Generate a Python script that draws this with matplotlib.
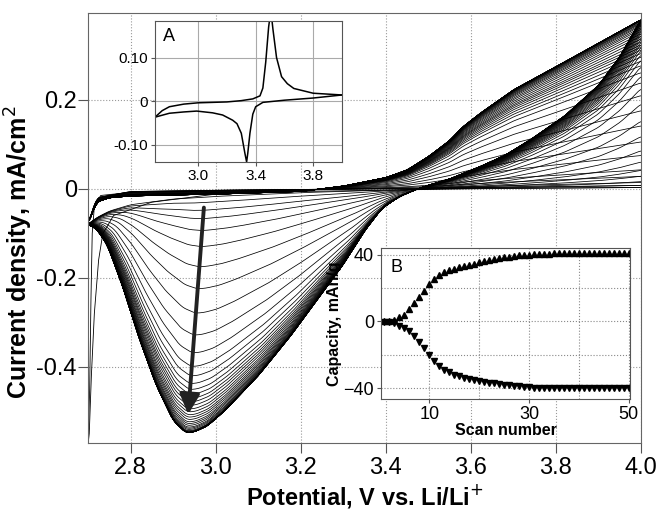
import matplotlib
matplotlib.use("Agg")
import matplotlib.pyplot as plt
import numpy as np

plt.rcParams['font.family'] = ['Liberation Sans', 'DejaVu Sans']

# ---- main panel: control points (V, mA/cm2) ----
# last-cycle anodic branch (upper envelope)
an_last_v = [2.70, 2.72, 2.75, 2.80, 3.00, 3.20, 3.30, 3.40, 3.45, 3.50, 3.55, 3.58, 3.62, 3.66, 3.70, 3.80, 3.90, 4.00]
an_last_i = [-0.080, -0.030, -0.020, -0.016, -0.012, -0.006, 0.006, 0.025, 0.042, 0.072, 0.108, 0.138, 0.168, 0.195, 0.222, 0.274, 0.327, 0.380]
# last-cycle cathodic branch (deep peak)
ca_last_v = [4.00, 3.95, 3.90, 3.82, 3.74, 3.68, 3.62, 3.55, 3.50, 3.47, 3.43, 3.39, 3.35, 3.30, 3.25,
             3.175, 3.10, 3.02, 2.98, 2.95, 2.93, 2.90, 2.86, 2.82, 2.78, 2.745, 2.72, 2.70]
ca_last_i = [0.380, 0.296, 0.232, 0.163, 0.110, 0.075, 0.049, 0.022, 0.008, -0.002, -0.018, -0.045, -0.095, -0.170, -0.235,
             -0.332, -0.420, -0.500, -0.533, -0.546, -0.548, -0.520, -0.440, -0.335, -0.215, -0.125, -0.090, -0.080]
# early-cycle branches
an_base_v = [2.70, 2.72, 2.80, 3.00, 3.40, 3.80, 4.00]
an_base_i = [-0.080, -0.020, -0.006, -0.003, 0.000, 0.003, 0.005]
ca_base_v = [4.00, 3.80, 3.60, 3.40, 3.20, 3.00, 2.90, 2.80, 2.75, 2.72, 2.70]
ca_base_i = [0.005, 0.003, 0.001, -0.002, -0.006, -0.013, -0.020, -0.035, -0.050, -0.065, -0.080]
# cathodic peak of the early scans sits this far right of the last one
peak_shift = 0.045
# first scan
first_ca_v = [4.00, 3.60, 3.20, 3.00, 2.85, 2.76, 2.745, 2.735, 2.725, 2.715, 2.708, 2.703, 2.700]
first_ca_i = [0.003, 0.000, -0.006, -0.012, -0.030, -0.060, -0.085, -0.100, -0.160, -0.280, -0.420, -0.550, -0.575]
first_an_v = [2.700, 2.704, 2.707, 2.710, 2.715, 2.730, 2.80, 3.40, 4.00]
first_an_i = [-0.575, -0.450, -0.250, -0.100, -0.040, -0.015, -0.008, 0.000, 0.003]

# ---- inset A: single CV ----
a_up_v = [2.70, 2.75, 2.80, 2.90, 3.00, 3.10, 3.20, 3.30, 3.38, 3.43, 3.45, 3.47, 3.49, 3.50, 3.51, 3.52, 3.545, 3.58, 3.62, 3.665, 3.80, 4.00]
a_up_i = [-0.037, -0.022, -0.013, -0.007, -0.004, -0.003, -0.002, 0.001, 0.005, 0.012, 0.030, 0.090, 0.170, 0.195, 0.195, 0.165, 0.100, 0.056, 0.040, 0.029, 0.018, 0.014]
a_dn_v = [4.00, 3.80, 3.60, 3.45, 3.40, 3.38, 3.36, 3.345, 3.337, 3.325, 3.30, 3.27, 3.24, 3.17, 3.10, 2.99, 2.90, 2.80, 2.70]
a_dn_i = [0.014, 0.007, 0.002, -0.003, -0.013, -0.030, -0.074, -0.120, -0.140, -0.120, -0.074, -0.052, -0.044, -0.032, -0.027, -0.023, -0.025, -0.028, -0.037]

# ---- inset B: capacity vs scan ----
scan = np.arange(1, 51)
charge = [0.3, 0.3, 1.0, 2.5, 4.1, 7.6, 10.9, 14.8, 18.5, 22.2, 25.3, 27.8, 29.5, 30.6, 31.6, 32.5, 33.3, 34.0, 34.6, 35.3,
          36.0, 36.7, 37.3, 37.9, 38.4, 38.8, 39.2, 39.5, 39.8, 40.0, 40.2, 40.4, 40.5, 40.6, 40.7, 40.7, 40.7, 40.7, 40.7, 40.7,
          40.7, 40.7, 40.7, 40.7, 40.7, 40.7, 40.7, 40.7, 40.7, 40.7]
discharge = [-0.3, -0.3, -1.2, -2.5, -3.9, -5.9, -8.6, -12.0, -15.7, -19.8, -23.5, -26.5, -28.8, -30.4, -31.7, -32.7, -33.5, -34.2, -34.8, -35.4,
             -36.0, -36.5, -37.0, -37.4, -37.8, -38.2, -38.5, -38.8, -39.1, -39.3, -39.5, -39.7, -39.8, -39.9, -40.0, -40.0, -40.0, -40.0, -40.0, -40.0,
             -40.0, -40.0, -40.0, -40.0, -40.0, -40.0, -40.0, -40.0, -40.0, -40.0]


def smooth_curve(vp, ip, v, k=11):
    vp = np.asarray(vp)
    ip = np.asarray(ip)
    o = np.argsort(vp)
    y = np.interp(v, vp[o], ip[o])
    y = np.convolve(np.pad(y, k // 2, mode='edge'), np.ones(k) / k, mode='valid')
    return y


fig = plt.figure(figsize=(6.56, 5.11), dpi=100)
ax = fig.add_axes([0.1341, 0.1331, 0.843, 0.8415])

v = np.linspace(2.7, 4.0, 800)
an_l = smooth_curve(an_last_v, an_last_i, v)
an_b = smooth_curve(an_base_v, an_base_i, v)
ca_b = smooth_curve(ca_base_v, ca_base_i, v)

qa = np.array(charge) / max(charge)
qc = np.abs(np.array(discharge)) / max(np.abs(discharge))
for n in range(1, len(scan)):
    ca_n = smooth_curve(np.array(ca_last_v) + (1 - qc[n]) * peak_shift * (np.array(ca_last_v) < 3.45), ca_last_i, v)
    ax.plot(v, an_b + qa[n] * (an_l - an_b), color='black', lw=0.55)
    ax.plot(v, ca_b + qc[n] * (ca_n - ca_b), color='black', lw=0.55)
ax.plot(first_ca_v, first_ca_i, color='black', lw=0.6)
ax.plot(first_an_v, first_an_i, color='black', lw=0.6)

ax.annotate('', xy=(2.935, -0.513), xytext=(2.973, -0.036),
            arrowprops=dict(arrowstyle='-|>', lw=2.8, color='#222222', mutation_scale=30))

ax.set_xlim(2.7, 4.0)
ax.set_ylim(-0.571, 0.395)
ax.set_xticks([2.8, 3.0, 3.2, 3.4, 3.6, 3.8, 4.0])
ax.set_xticklabels(['2.8', '3.0', '3.2', '3.4', '3.6', '3.8', '4.0'])
ax.set_yticks([-0.4, -0.2, 0, 0.2])
ax.set_yticklabels(['-0.4', '-0.2', '0', '0.2'])
ax.tick_params(labelsize=17, direction='out', length=7, color='#555555')
ax.tick_params(axis='y', pad=1)
ax.tick_params(axis='x', pad=3)
ax.grid(True, ls=':', color='#999999', lw=0.8)
ax.set_axisbelow(True)
for s in ax.spines.values():
    s.set_color('#666666')
ax.set_xlabel('Potential, V vs. Li/Li$^{+}$', fontsize=17, fontweight='bold', va='center')
ax.set_ylabel('Current density, mA/cm$^{2}$', fontsize=18, fontweight='bold', va='center')
ax.xaxis.set_label_coords(0.5, -0.124)
ax.yaxis.set_label_coords(-0.124, 0.444)

# inset A
axa = fig.add_axes([0.2363, 0.683, 0.285, 0.2759])
axa.plot(a_up_v, a_up_i, color='black', lw=1.1)
axa.plot(a_dn_v, a_dn_i, color='black', lw=1.1)
axa.set_xlim(2.7, 4.0)
axa.set_ylim(-0.14, 0.184)
axa.set_xticks([3.0, 3.4, 3.8])
axa.set_xticklabels(['3.0', '3.4', '3.8'])
axa.set_yticks([-0.1, 0, 0.1])
axa.set_yticklabels(['-0.10', '0', '0.10'])
axa.tick_params(labelsize=11, length=3, color='#555555', pad=2)
axa.grid(True, color='#aaaaaa', lw=0.8)
axa.set_axisbelow(True)
for s in axa.spines.values():
    s.set_color('#555555')
axa.text(0.04, 0.95, 'A', transform=axa.transAxes, fontsize=13, va='top')

# inset B
axb = fig.add_axes([0.5808, 0.2192, 0.3796, 0.2955])
axb.plot(scan, charge, ls='none', marker='^', ms=5, color='black')
axb.plot(scan, discharge, ls='none', marker='v', ms=5, color='black')
axb.set_xlim(0.3, 50.3)
axb.set_ylim(-46.3, 43.9)
axb.set_xticks([10, 30, 50])
axb.set_xticks([20, 40], minor=True)
axb.set_yticks([-40, 0, 40])
axb.set_yticks([-20, 20], minor=True)
axb.tick_params(which='major', labelsize=13, length=3, color='#555555', pad=2)
axb.tick_params(which='minor', length=0)
axb.grid(True, which='both', ls=':', color='#888888', lw=0.8)
axb.set_axisbelow(True)
for s in axb.spines.values():
    s.set_color('#555555')
axb.set_xlabel('Scan number', fontsize=11.5, fontweight='bold', labelpad=0)
axb.set_ylabel('Capacity, mAh/g', fontsize=11.5, fontweight='bold', labelpad=1)
axb.text(0.04, 0.93, 'B', transform=axb.transAxes, fontsize=13, va='top')

fig.savefig('out.png', dpi=100)
